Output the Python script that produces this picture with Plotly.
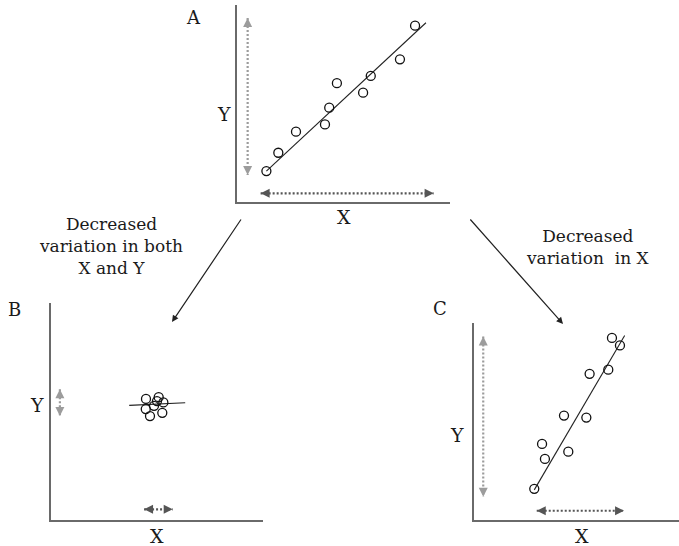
import plotly.graph_objects as go

# ── Data (axis units 0-10 in every panel) ─────────────────────────────────────

a_x = [1.38, 1.94, 2.77, 4.13, 4.33, 4.69, 5.92, 6.28, 7.65, 8.36]
a_y = [1.57, 2.50, 3.57, 3.94, 4.79, 6.03, 5.55, 6.40, 7.24, 8.95]
a_fit_x = [1.38, 8.87]
a_fit_y = [1.57, 9.10]
a_yspan = [9.34, 1.37]
a_xspan = [1.11, 9.23]

b_x = [4.48, 5.08, 5.00, 5.30, 4.86, 4.47, 5.25, 4.67]
b_y = [5.58, 5.66, 5.48, 5.42, 5.26, 5.11, 4.94, 4.79]
b_fit_x = [3.69, 6.33]
b_fit_y = [5.28, 5.40]
b_yspan = [6.03, 4.79]
b_xspan = [4.39, 5.74]

c_x = [2.94, 3.46, 3.32, 4.60, 4.39, 5.48, 5.64, 6.55, 6.73, 7.12]
c_y = [1.58, 3.10, 3.86, 3.47, 5.30, 5.20, 7.42, 7.63, 9.24, 8.86]
c_fit_x = [2.94, 7.35]
c_fit_y = [1.53, 9.37]
c_yspan = [9.32, 1.18]
c_xspan = [3.06, 7.32]

span_pos = {"A": (0.50, 0.44), "B": (0.42, 0.49), "C": (0.45, 0.47)}

# ── Layout helpers ────────────────────────────────────────────────────────────

W, H = 679, 546
FONT = "DejaVu Serif"
AXIS_GREY = "#6a6a6a"
Y_ARROW = "#9c9c9c"
X_ARROW = "#555555"


def px_x(p):
    return p / W


def px_y(p):
    return 1 - p / H


# pixel boxes of each panel: left, right, top, bottom
boxes = {"A": (237, 450, 5, 202), "B": (51, 263, 303, 520), "C": (474, 679, 323, 520)}
panels = {
    "A": (a_x, a_y, a_fit_x, a_fit_y, a_yspan, a_xspan),
    "B": (b_x, b_y, b_fit_x, b_fit_y, b_yspan, b_xspan),
    "C": (c_x, c_y, c_fit_x, c_fit_y, c_yspan, c_xspan),
}

fig = go.Figure()
layout = {}
for i, (name, (xs, ys, fx, fy, yspan, xspan)) in enumerate(panels.items()):
    suffix = "" if i == 0 else str(i + 1)
    xa, ya = "x" + suffix, "y" + suffix
    left, right, top, bottom = boxes[name]
    axis_style = dict(showline=True, linecolor=AXIS_GREY, linewidth=2, showgrid=False, zeroline=False,
                      showticklabels=False, ticks="", range=[0, 10], fixedrange=True)
    layout["xaxis" + suffix] = dict(axis_style, domain=[px_x(left), px_x(right)], anchor=ya)
    layout["yaxis" + suffix] = dict(axis_style, domain=[px_y(bottom), px_y(top)], anchor=xa)
    sx, sy = span_pos[name]
    # dotted range arrows
    fig.add_trace(go.Scatter(x=[sx, sx], y=yspan, xaxis=xa, yaxis=ya, mode="lines+markers",
                             line=dict(color=Y_ARROW, width=2.2, dash="2px,2px"),
                             marker=dict(symbol=["arrow-up", "arrow-down"], size=9, color=Y_ARROW),
                             hoverinfo="skip"))
    fig.add_trace(go.Scatter(x=xspan, y=[sy, sy], xaxis=xa, yaxis=ya, mode="lines+markers",
                             line=dict(color=X_ARROW, width=2.2, dash="2px,2px"),
                             marker=dict(symbol=["arrow-left", "arrow-right"], size=9, color=X_ARROW),
                             hoverinfo="skip"))
    # fit line and points
    fig.add_trace(go.Scatter(x=fx, y=fy, xaxis=xa, yaxis=ya, mode="lines",
                             line=dict(color="#222222", width=1.1), hoverinfo="skip"))
    fig.add_trace(go.Scatter(x=xs, y=ys, xaxis=xa, yaxis=ya, mode="markers",
                             marker=dict(symbol="circle-open", size=9, color="#111111", line=dict(width=1.3))))

annotations = []
labels = [("A", 193, 17, 18), ("B", 14, 309, 18), ("C", 440, 308, 18),
          ("Y", 224, 114, 19), ("X", 344, 217, 19),
          ("Y", 37, 405, 19), ("X", 157, 536, 19),
          ("Y", 457, 435, 19), ("X", 582, 536, 19),
          ("Decreased<br>variation in both<br>X and Y", 111, 246, 17),
          ("Decreased<br>variation\u00a0 in X", 587, 247, 17)]
for text, x, y, size in labels:
    annotations.append(dict(text=text, x=px_x(x), y=px_y(y), xref="paper", yref="paper", showarrow=False,
                            xanchor="center", yanchor="middle", align="center",
                            font=dict(family=FONT, size=size, color="#1a1a1a")))

# connecting arrows between panels (tail -> head in pixels)
for tail, head in [((242, 218), (172, 322)), ((469, 218), (563, 324))]:
    annotations.append(dict(x=px_x(head[0]), y=px_y(head[1]), xref="paper", yref="paper",
                            ax=tail[0] - head[0], ay=tail[1] - head[1], text="", showarrow=True,
                            arrowhead=2, arrowsize=1.1, arrowwidth=1.2, arrowcolor="#222222"))

fig.update_layout(**layout)
fig.update_layout(width=W, height=H, margin=dict(l=0, r=0, t=0, b=0), showlegend=False,
                  paper_bgcolor="white", plot_bgcolor="white", annotations=annotations)
fig.write_html("out.html", config={"displayModeBar": False},
               post_script="document.body.style.margin = '0';")
